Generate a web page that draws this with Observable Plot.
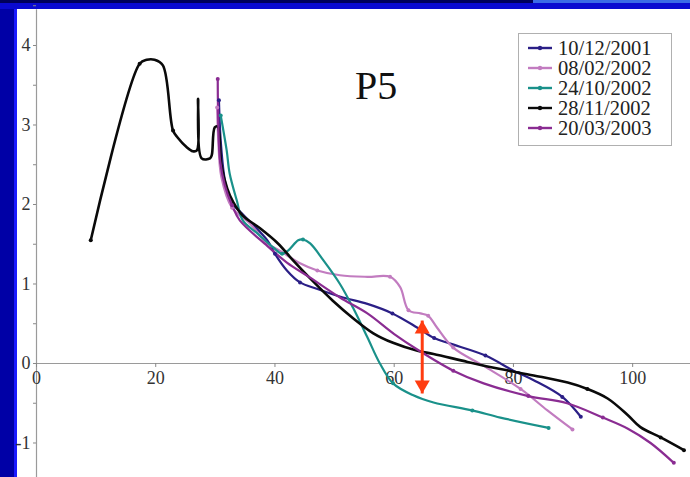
<!DOCTYPE html>
<html><head><meta charset="utf-8">
<script src="https://cdn.jsdelivr.net/npm/d3@7"></script>
<script src="https://cdn.jsdelivr.net/npm/@observablehq/plot@0.6"></script>
<style>
html,body{margin:0;padding:0;width:690px;height:477px;overflow:hidden;background:#0000a6;position:relative;}
#top{position:absolute;left:0;top:0;width:690px;height:9px;background:#0a0ad0;}
#topl{position:absolute;left:0;top:0;width:533px;height:3px;background:#00005a;}
#topr{position:absolute;left:533px;top:0;width:157px;height:3px;background:#3b6ae6;}
#edge{position:absolute;left:14px;top:9px;width:3px;height:468px;background:#1a1aff;}
#panel{position:absolute;left:17px;top:9px;width:673px;height:468px;background:#fff;}
#chart{position:absolute;left:0;top:0;}
#legend{position:absolute;left:518px;top:33px;width:154px;height:113px;box-sizing:border-box;border:1px solid #b0b0b0;background:#fff;padding-top:4px;font-family:"Liberation Serif",serif;font-size:20.5px;color:#222;}
#legend .row{height:20px;line-height:20px;display:flex;align-items:center;padding-left:9px;}
#legend svg{margin-right:6px;}
#title{position:absolute;left:355px;top:66px;font-family:"Liberation Serif",serif;font-size:40px;color:#111;line-height:40px;}
</style></head>
<body>
<div id="top"></div><div id="topl"></div><div id="topr"></div>
<div id="edge"></div><div id="panel"></div>
<div id="chart"></div>
<div id="title">P5</div>
<div id="legend"></div>
<script>
// ---- data ----
const seriesNames = ["10/12/2001", "08/02/2002", "24/10/2002", "28/11/2002", "20/03/2003"];

const x_20011210 = [30.6, 30.9, 31.5, 32.4, 34.3, 38.7, 40.0, 42.0, 44.2, 47.0, 51.4, 55.5, 59.7, 63.9, 66.7, 69.4, 75.3, 80.0, 83.4, 88.2, 91.3];
const y_20011210 = [3.31, 2.8, 2.35, 2.05, 1.9, 1.55, 1.38, 1.17, 1.02, 0.94, 0.83, 0.75, 0.63, 0.45, 0.32, 0.25, 0.1, -0.09, -0.21, -0.42, -0.67];
const m_20011210 = [0, 6, 8, 12, 14, 16, 19, 20];

const x_20020208 = [30.3, 30.5, 31.0, 32.8, 35.8, 38.7, 40.8, 44.2, 47.1, 50.9, 55.5, 59.3, 61.0, 62.4, 64.4, 65.7, 67.2, 69.9, 75.0, 81.2, 85.7, 89.9];
const y_20020208 = [3.22, 2.8, 2.35, 1.96, 1.76, 1.51, 1.42, 1.26, 1.17, 1.11, 1.09, 1.09, 0.96, 0.67, 0.63, 0.6, 0.45, 0.2, -0.03, -0.32, -0.59, -0.83];
const m_20020208 = [0, 3, 8, 11, 13, 15, 17, 19, 21];

const x_20021024 = [30.9, 31.9, 32.4, 33.6, 34.6, 37.0, 39.7, 41.2, 42.2, 43.9, 44.7, 45.9, 48.1, 50.9, 53.1, 55.5, 57.6, 59.8, 63.2, 66.6, 73.1, 77.8, 85.9];
const y_20021024 = [3.12, 2.68, 2.39, 2.05, 1.8, 1.64, 1.46, 1.38, 1.42, 1.55, 1.56, 1.51, 1.3, 1.0, 0.7, 0.33, 0.0, -0.25, -0.4, -0.49, -0.59, -0.68, -0.81];
const m_20021024 = [0, 7, 10, 17, 20, 22];

const x_20021128 = [9.1, 17.3, 18.5, 19.8, 21.2, 22.9, 23.7, 25.2, 26.2, 26.9, 27.1, 27.7, 29.1, 29.4, 29.9, 30.4, 31.0, 32.0, 33.0, 34.6, 37.5, 40.5, 43.0, 45.9, 49.7, 53.1, 56.5, 59.8, 63.9, 66.6, 72.3, 77.8, 83.4, 89.1, 92.4, 95.8, 99.2, 101.3, 104.7, 108.6];
const y_20021128 = [1.55, 3.77, 3.82, 3.82, 3.75, 2.93, 2.84, 2.72, 2.67, 2.68, 3.33, 2.58, 2.58, 2.62, 2.97, 2.98, 2.5, 2.2, 2.03, 1.86, 1.70, 1.51, 1.30, 1.07, 0.79, 0.57, 0.38, 0.26, 0.16, 0.12, 0.02, -0.07, -0.15, -0.24, -0.32, -0.44, -0.65, -0.8, -0.93, -1.09];
const m_20021128 = [0, 1, 5, 34, 38, 39];

const x_20030320 = [30.4, 30.5, 30.8, 31.6, 32.8, 34.1, 38.7, 42.0, 45.9, 50.9, 55.5, 60.0, 64.0, 69.9, 75.0, 82.5, 89.0, 95.0, 99.2, 103.0, 106.9];
const y_20030320 = [3.58, 3.0, 2.55, 2.24, 1.99, 1.80, 1.48, 1.27, 1.08, 0.83, 0.63, 0.37, 0.17, -0.09, -0.25, -0.41, -0.5, -0.68, -0.82, -1.0, -1.25];
const m_20030320 = [0, 4, 13, 15, 17, 20];

const xTicks = [0, 20, 40, 60, 80, 100];
const yTicks = [-1, 0, 1, 2, 3, 4];
const arrowX = [64.7];
const arrowY = [0.54, -0.377];
// ---- end data ----

const colors = ["#2b1f86", "#c27cc0", "#1a918a", "#0a0a0a", "#8a2c92"];
const xs = [x_20011210, x_20020208, x_20021024, x_20021128, x_20030320];
const ys = [y_20011210, y_20020208, y_20021024, y_20021128, y_20030320];
const ms = [m_20011210, m_20020208, m_20021024, m_20021128, m_20030320];

const rows = [];
const markers = [];
seriesNames.forEach((name, i) => {
  xs[i].forEach((x, j) => rows.push({name, x, y: ys[i][j]}));
  ms[i].forEach(j => markers.push({name, x: xs[i][j], y: ys[i][j]}));
});

const color = {domain: seriesNames, range: colors};
const serif = "Liberation Serif, Times New Roman, serif";
const yMinor = d3.range(-1, 4.51, 0.5);

const chart = Plot.plot({
  width: 690, height: 477,
  marginLeft: 36, marginRight: 0, marginTop: 0, marginBottom: 0,
  x: {domain: [0, 109.7], axis: null},
  y: {domain: [-1.434, 4.566]},
  color,
  style: {background: "transparent", overflow: "visible"},
  marks: [
    Plot.ruleY([0], {stroke: "#9a9a9a", strokeWidth: 1.2}),
    Plot.ruleX([0], {stroke: "#9a9a9a", strokeWidth: 1.2, y1: -1.434, y2: 4.45}),
    Plot.axisY({ticks: yMinor, tickSize: 3, tickPadding: 3, stroke: "#888", fill: "#333",
      tickFormat: d => Number.isInteger(d) ? String(d) : "", fontSize: 18, fontFamily: serif, label: null}),
    Plot.ruleX(xTicks, {x: d => d, y1: 0, y2: -0.05, stroke: "#888"}),
    Plot.text(xTicks, {x: d => d, y: 0, dy: 15, text: d => String(d), fontSize: 18, fontFamily: serif, fill: "#333"}),
    ...seriesNames.map((name, i) => Plot.line(rows.filter(r => r.name === name), {
      x: "x", y: "y", stroke: colors[i], strokeWidth: i === 3 ? 2.6 : 2.2, curve: "catmull-rom"
    })),
    Plot.dot(markers, {x: "x", y: "y", fill: "name", r: 2}),
    Plot.link(arrowX, {x1: d => d, x2: d => d, y1: arrowY[0], y2: arrowY[1], stroke: "#ff3c10", strokeWidth: 3, insetTop: 10, insetBottom: 10}),
    Plot.dot(arrowX, {x: d => d, y: arrowY[0], symbol: "triangle", r: 5.6, fill: "#ff3c10", dy: 8.6}),
    Plot.dot(arrowX, {x: d => d, y: arrowY[1], symbol: "triangle", r: 5.6, fill: "#ff3c10", dy: -8.6, rotate: 180})
  ]
});
document.getElementById("chart").appendChild(chart);

const legend = document.getElementById("legend");
seriesNames.forEach((name, i) => {
  const row = document.createElement("div");
  row.className = "row";
  row.innerHTML = `<svg width="24" height="8"><line x1="0" x2="24" y1="4" y2="4" stroke="${colors[i]}" stroke-width="2.4"/><circle cx="12" cy="4" r="2.2" fill="${colors[i]}"/></svg><span>${name}</span>`;
  legend.appendChild(row);
});
</script>
</body></html>
